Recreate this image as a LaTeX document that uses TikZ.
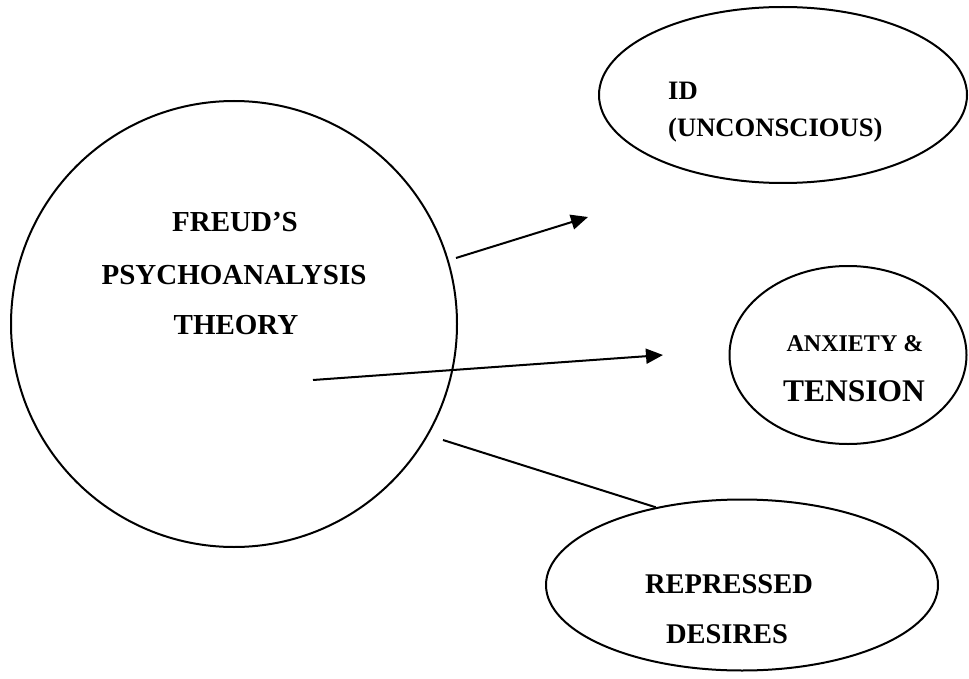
\documentclass[tikz,border=0pt]{standalone}
\usepackage{fontspec}
\setmainfont{Liberation Serif}
\usetikzlibrary{shapes.geometric,arrows.meta}

\begin{document}
\begin{tikzpicture}[x=1pt,y=-1pt,
        bubble/.style={draw,line width=2pt,inner sep=0pt},
        words/.style={inner sep=0pt,font=\bfseries\fontsize{29}{29}\selectfont},
        linkarrow/.style={line width=2pt,-{Triangle[length=17pt,width=15pt]}}]

        \useasboundingbox (0,0) rectangle (969,679);

        \node[bubble,circle,minimum size=446pt] (Freud) at (234,324) {};
        \node[bubble,ellipse,minimum width=368pt,minimum height=176pt] (Id) at (783,95) {};
        \node[bubble,ellipse,minimum width=237pt,minimum height=178pt] (Anxiety) at (848,355) {};
        \node[bubble,ellipse,minimum width=392pt,minimum height=171pt] (Repressed) at (742,585) {};

        \node[words,anchor=base] (FreudA) at (235,232) {FREUD’S};
        \node[words,anchor=base] (FreudB) at (234,284) {PSYCHOANALYSIS};
        \node[words,anchor=base] (FreudC) at (236,334) {THEORY};

        \node[words,anchor=base west,font=\bfseries\fontsize{26.6}{26.6}\selectfont] (IdA) at (668,100) {ID};
        \node[words,anchor=base west,font=\bfseries\fontsize{26.6}{26.6}\selectfont] (IdB) at (668,137) {(UNCONSCIOUS)};

        \node[words,anchor=base,font=\bfseries\fontsize{24}{24}\selectfont] (AnxietyA) at (855,351) {ANXIETY \&};
        \node[words,anchor=base,font=\bfseries\fontsize{31.5}{31.5}\selectfont] (AnxietyB) at (854,401) {TENSION};

        \node[words,anchor=base,font=\bfseries\fontsize{28.5}{28.5}\selectfont] (RepressedA) at (729,593) {REPRESSED};
        \node[words,anchor=base,font=\bfseries\fontsize{28.5}{28.5}\selectfont] (RepressedB) at (727,643) {DESIRES};

        \coordinate (IdStart) at (456,258);
        \coordinate (IdEnd) at (588,217);
        \coordinate (AnxietyStart) at (313,380);
        \coordinate (AnxietyEnd) at (663,355);
        \coordinate (RepressedStart) at (443,440);

        \draw[linkarrow] (IdStart) to (IdEnd);
        \draw[linkarrow] (AnxietyStart) to (AnxietyEnd);
        \draw[line width=2pt] (RepressedStart) to (Repressed.138);
\end{tikzpicture}
\end{document}
